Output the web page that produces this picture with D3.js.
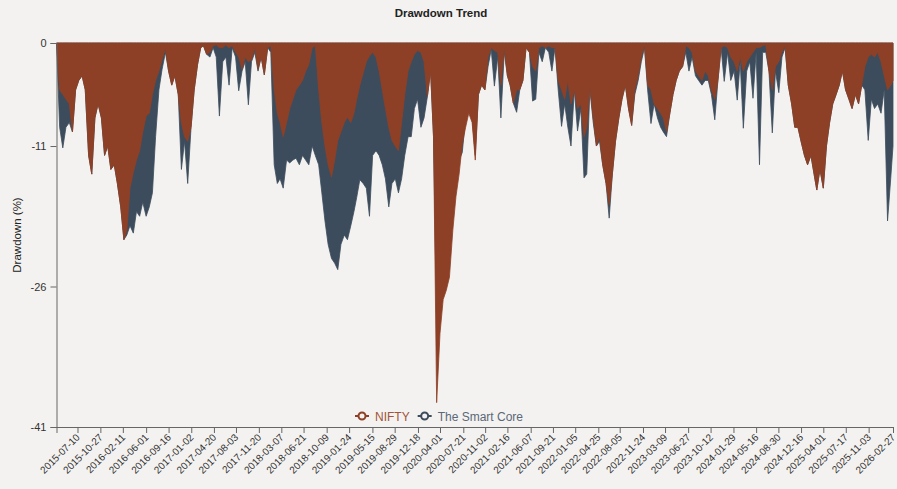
<!DOCTYPE html>
<html><head><meta charset="utf-8">
<script src="https://cdn.jsdelivr.net/npm/d3@7/dist/d3.min.js"></script>
<style>
html,body{margin:0;padding:0;background:#f3f2f0;}
svg{display:block;font-family:"Liberation Sans",Arial,Helvetica,sans-serif;}
</style></head><body>
<svg id="chart" width="897" height="489"></svg>
<script>
// ---- data (semi-monthly samples, drawdown in %) ----
const dates = [
"2015-04-01","2015-04-16","2015-05-01","2015-05-16","2015-06-01","2015-06-16","2015-07-01","2015-07-16","2015-08-01","2015-08-16","2015-09-01","2015-09-16","2015-10-01","2015-10-16","2015-11-01","2015-11-16","2015-12-01","2015-12-16",
"2016-01-01","2016-01-16","2016-02-01","2016-02-16","2016-03-01","2016-03-16","2016-04-01","2016-04-16","2016-05-01","2016-05-16","2016-06-01","2016-06-16","2016-07-01","2016-07-16","2016-08-01","2016-08-16","2016-09-01","2016-09-16","2016-10-01","2016-10-16","2016-11-01","2016-11-16","2016-12-01","2016-12-16",
"2017-01-01","2017-01-16","2017-02-01","2017-02-16","2017-03-01","2017-03-16","2017-04-01","2017-04-16","2017-05-01","2017-05-16","2017-06-01","2017-06-16","2017-07-01","2017-07-16","2017-08-01","2017-08-16","2017-09-01","2017-09-16","2017-10-01","2017-10-16","2017-11-01","2017-11-16","2017-12-01","2017-12-16",
"2018-01-01","2018-01-16","2018-02-01","2018-02-16","2018-03-01","2018-03-16","2018-04-01","2018-04-16","2018-05-01","2018-05-16","2018-06-01","2018-06-16","2018-07-01","2018-07-16","2018-08-01","2018-08-16","2018-09-01","2018-09-16","2018-10-01","2018-10-16","2018-11-01","2018-11-16","2018-12-01","2018-12-16",
"2019-01-01","2019-01-16","2019-02-01","2019-02-16","2019-03-01","2019-03-16","2019-04-01","2019-04-16","2019-05-01","2019-05-16","2019-06-01","2019-06-16","2019-07-01","2019-07-16","2019-08-01","2019-08-16","2019-09-01","2019-09-16","2019-10-01","2019-10-16","2019-11-01","2019-11-16","2019-12-01","2019-12-16",
"2020-01-01","2020-01-16","2020-02-01","2020-02-16","2020-03-01","2020-03-16","2020-04-01","2020-04-16","2020-05-01","2020-05-16","2020-06-01","2020-06-16","2020-07-01","2020-07-16","2020-08-01","2020-08-16","2020-09-01","2020-09-16","2020-10-01","2020-10-16","2020-11-01","2020-11-16","2020-12-01","2020-12-16",
"2021-01-01","2021-01-16","2021-02-01","2021-02-16","2021-03-01","2021-03-16","2021-04-01","2021-04-16","2021-05-01","2021-05-16","2021-06-01","2021-06-16","2021-07-01","2021-07-16","2021-08-01","2021-08-16","2021-09-01","2021-09-16","2021-10-01","2021-10-16","2021-11-01","2021-11-16","2021-12-01","2021-12-16",
"2022-01-01","2022-01-16","2022-02-01","2022-02-16","2022-03-01","2022-03-16","2022-04-01","2022-04-16","2022-05-01","2022-05-16","2022-06-01","2022-06-16","2022-07-01","2022-07-16","2022-08-01","2022-08-16","2022-09-01","2022-09-16","2022-10-01","2022-10-16","2022-11-01","2022-11-16","2022-12-01","2022-12-16",
"2023-01-01","2023-01-16","2023-02-01","2023-02-16","2023-03-01","2023-03-16","2023-04-01","2023-04-16","2023-05-01","2023-05-16","2023-06-01","2023-06-16","2023-07-01","2023-07-16","2023-08-01","2023-08-16","2023-09-01","2023-09-16","2023-10-01","2023-10-16","2023-11-01","2023-11-16","2023-12-01","2023-12-16",
"2024-01-01","2024-01-16","2024-02-01","2024-02-16","2024-03-01","2024-03-16","2024-04-01","2024-04-16","2024-05-01","2024-05-16","2024-06-01","2024-06-16","2024-07-01","2024-07-16","2024-08-01","2024-08-16","2024-09-01","2024-09-16","2024-10-01","2024-10-16","2024-11-01","2024-11-16","2024-12-01","2024-12-16",
"2025-01-01","2025-01-16","2025-02-01","2025-02-16","2025-03-01","2025-03-16","2025-04-01","2025-04-16","2025-05-01","2025-05-16","2025-06-01","2025-06-16","2025-07-01","2025-07-16","2025-08-01","2025-08-16","2025-09-01","2025-09-16","2025-10-01","2025-10-16","2025-11-01","2025-11-16","2025-12-01","2025-12-16",
"2026-01-01","2026-01-16","2026-02-01","2026-02-16","2026-02-27"
];
const nifty = [
0,-5,-5.5,-6,-6.5,-9.5,-5,-4,-3.5,-5,-12,-14,-8,-6.5,-8,-12,-11,-13.5,
-13,-15,-17.5,-21,-20,-15.5,-13.8,-12.5,-11.5,-9.5,-7.8,-7.5,-5.5,-4,-3,-1.8,-0.6,-3,-4.5,-3.5,-5.5,-8.5,-10,-10.5,
-9,-5,-2.3,-0.5,-0.3,-1.2,-1,-0.3,-0.2,-0.5,-0.5,-0.2,-0.5,-0.3,-1,-1.5,-2.8,-1.5,-2,-1.8,-0.5,-2.8,-1.5,-3.4,
-0.5,-0.3,-5,-7.5,-8.5,-10,-8.5,-7,-6,-5,-4.5,-4,-3,-2.3,-0.5,-0.3,-5,-8.5,-11,-13,-14.3,-12.5,-10.4,-9.5,
-8.5,-7.9,-8.5,-7.5,-6,-4.5,-3.2,-2,-1.4,-1,-1.5,-3,-5,-7,-9,-10.4,-11,-11.5,-8.5,-5.5,-3,-2,-1.2,-0.8,
-1,-2,-5.7,-3,-10,-38.4,-31,-27.4,-26.4,-25,-20,-16.4,-14,-10.8,-9,-7.5,-8.5,-12.5,-5.5,-4.5,-5,-1.5,-0.5,-0.8,
-1,-4.5,-0.5,-3.5,-4.5,-6.4,-5,-5,-4,-0.5,-1,-2.5,-3,-0.5,-0.3,-0.5,-0.3,-0.5,-0.5,-4,-5,-6,-4,-6.5,
-5,-7,-6.5,-10,-9,-4.6,-8,-11,-10,-13,-15,-17.3,-14,-10.5,-8,-6,-4.5,-7,-8.8,-5,-3.5,-1.5,-0.2,-4.5,
-5,-6.5,-7,-7.5,-8,-9.5,-7.5,-5.5,-4,-3,-2.5,-0.3,-0.5,-1,-3,-3.5,-4,-3,-3.5,-5,-6,-4,-0.5,-0.3,
-0.5,-1.5,-2,-3,-1.5,-3,-2,-1.5,-1,-0.5,-0.5,-0.3,-0.2,-3,-5,-2.5,-2,-1,-0.3,-4.5,-6.5,-9,-9,-10.5,
-12,-13,-12,-14,-15.7,-13.5,-15.5,-11,-8.5,-6.5,-5.5,-4.5,-3,-5,-6,-7,-5.5,-6.5,-4.5,-2.5,-1.5,-1.2,-1.5,-1,
-2,-3.5,-5,-4.5,-4
];
const smartCore = [
0,-9,-11.2,-9,-8.5,-9.5,-5,-4,-3.5,-5,-12,-14,-8,-6.5,-8,-12,-11,-13.5,
-13,-15,-17.5,-21,-20.5,-19.5,-20.3,-18,-18.5,-17,-18.5,-17.5,-16,-10,-5,-2.8,-1,-3,-4.5,-3.5,-5.5,-13.5,-10.5,-15,
-9,-5,-2.3,-0.5,-0.3,-1.2,-1.5,-0.5,-1.5,-7.8,-2,-1.5,-4.5,-0.5,-1.5,-5.1,-3,-2,-6.6,-2,-1,-3,-1.5,-3.4,
-0.5,-1,-13,-15,-14.5,-15.5,-12.5,-12.8,-12.5,-12.3,-13,-12,-12.5,-13,-11,-12,-13,-16,-19,-21.5,-23,-23.5,-24.2,-21.5,
-20.5,-21,-19.5,-18,-16.5,-14.6,-15,-15.5,-18.5,-12,-11.5,-12,-13,-14.5,-17.5,-15,-14.5,-16,-14.5,-12,-10,-10,-7,-6,
-9,-8,-5.7,-3,-10,-30,-28,-25,-23,-22,-18,-15,-12.5,-11.7,-8,-7,-8,-12,-5.5,-4.5,-5,-2.5,-0.7,-4.6,
-1.5,-8,-1,-3.5,-4.5,-6.4,-7.4,-5,-4,-0.5,-1,-6.2,-6,-1,-2,-0.5,-1,-3,-0.5,-5,-8.9,-6.5,-9,-11,
-5,-9.4,-7,-14.4,-14,-5,-8.5,-11,-10.5,-13,-15,-18.7,-14,-10.5,-8,-6,-4.5,-7,-8.8,-5.5,-4,-2,-0.5,-5,
-8.6,-6.5,-8,-9,-9.5,-10,-7.5,-5.5,-4,-3,-2.5,-1,-3,-1.5,-3.5,-4,-4.5,-4,-4,-5.5,-8.2,-4,-0.5,-4.1,
-1,-4,-3,-6.1,-2,-9.1,-3,-2,-5.9,-1,-13,-1,-1,-3,-9.6,-3,-5.3,-1.5,-0.5,-4.5,-6.5,-9,-9,-10.5,
-12,-13,-12,-14,-15.7,-13.5,-15.5,-11,-8.5,-6.5,-5.5,-4.5,-3,-5,-6,-7,-5.5,-6.5,-4.5,-5,-10.4,-6,-7,-6.5,
-7.5,-5,-19,-14.5,-11
];
const tickDates = ["2015-07-10","2015-10-27","2016-02-11","2016-06-01","2016-09-16","2017-01-02","2017-04-20","2017-08-03","2017-11-20","2018-03-07","2018-06-21","2018-10-09","2019-01-24","2019-05-15","2019-08-29","2019-12-18","2020-04-01","2020-07-21","2020-11-02","2021-02-16","2021-06-07","2021-09-21","2022-01-05","2022-04-25","2022-08-05","2022-11-24","2023-03-09","2023-06-27","2023-10-12","2024-01-29","2024-05-16","2024-08-30","2024-12-16","2025-04-01","2025-07-17","2025-11-03","2026-02-27"];
const yTicks = [0,-11,-26,-41];
const seriesNames = ["NIFTY","The Smart Core"];
const seriesColors = ["#8e4026","#3c4c5d"];
const legendTextColors = ["#a2553a","#5a6878"];

// ---- chart ----
const W = 897, H = 489;
const m = {left:56.5, right:4, top:43, bottom:62};
const svg = d3.select("#chart");
const parse = d3.utcParse("%Y-%m-%d");
const dd = dates.map(parse);

const x = d3.scaleUtc()
  .domain([dd[0], dd[dd.length-1]])
  .range([m.left, W - m.right]);
const y = d3.scaleLinear().domain([-41, 0]).range([H - m.bottom, m.top]);

const rowsN = dd.map((d,i)=>({d, v:nifty[i]}));
const rowsS = dd.map((d,i)=>({d, v:smartCore[i]}));
const area = d3.area().x(r=>x(r.d)).y0(y(0)).y1(r=>y(r.v));

svg.append("path").datum(rowsS).attr("d", area)
  .attr("fill", seriesColors[1]).attr("stroke", seriesColors[1]).attr("stroke-width",0.8);
svg.append("path").datum(rowsN).attr("d", area)
  .attr("fill", seriesColors[0]).attr("stroke", seriesColors[0]).attr("stroke-width",0.8);

// y axis
const yAx = svg.append("g").attr("transform",`translate(${m.left},0)`)
  .call(d3.axisLeft(y).tickValues(yTicks).tickFormat(d => String(d)).tickSizeOuter(0).tickSize(6));
yAx.select(".domain").attr("stroke","#666");
yAx.selectAll(".tick line").attr("stroke","#666");
yAx.selectAll(".tick text").attr("fill","#333").attr("font-size",11).attr("dx",-1);

// x axis
const xAx = svg.append("g").attr("transform",`translate(0,${H - m.bottom})`)
  .call(d3.axisBottom(x).tickValues(tickDates.map(parse)).tickFormat(d3.utcFormat("%Y-%m-%d")).tickSizeOuter(0).tickSize(6));
xAx.select(".domain").attr("stroke","#666");
xAx.selectAll(".tick line").attr("stroke","#666");
xAx.selectAll(".tick text").attr("fill","#333").attr("font-size",10)
  .attr("text-anchor","end").attr("dy",null).attr("y",0)
  .attr("transform","translate(2.5,11) rotate(-45)");

// title
svg.append("text").attr("x",441).attr("y",17).attr("text-anchor","middle")
  .attr("font-weight","bold").attr("font-size",11.5).attr("fill","#222").text("Drawdown Trend");
// y label
svg.append("text").attr("transform","translate(21,235) rotate(-90)").attr("text-anchor","middle")
  .attr("font-size",11.5).attr("fill","#222").text("Drawdown (%)");

// legend
const leg = svg.append("g").attr("transform","translate(355,416)");
let lx = 0;
seriesNames.forEach((n,i)=>{
  const g = leg.append("g").attr("transform",`translate(${lx},0)`);
  g.append("line").attr("x1",0).attr("x2",14).attr("y1",0).attr("y2",0)
    .attr("stroke",seriesColors[i]).attr("stroke-width",2);
  g.append("circle").attr("cx",7).attr("cy",0).attr("r",3.5)
    .attr("fill","#f3f2f0").attr("stroke",seriesColors[i]).attr("stroke-width",2);
  const t = g.append("text").attr("x",20).attr("y",4.5).attr("font-size",12)
    .attr("fill",legendTextColors[i]).text(n);
  lx += 20 + t.node().getComputedTextLength() + 8;
});
</script>
</body></html>
